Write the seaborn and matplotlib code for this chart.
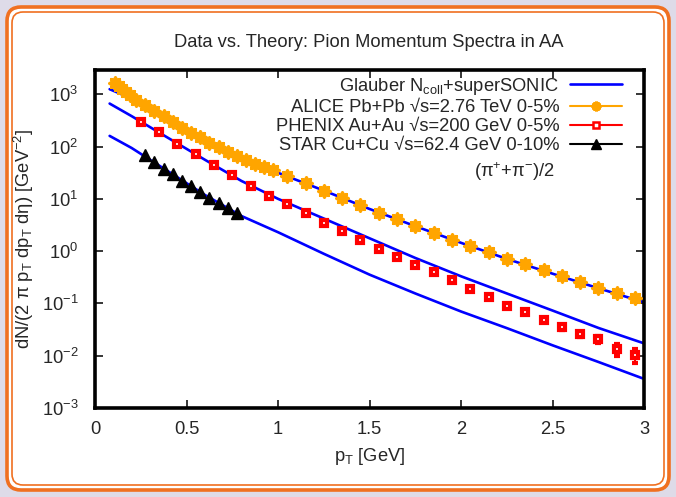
import pandas as pd
import matplotlib
matplotlib.use('Agg')
import matplotlib.pyplot as plt
import seaborn as sns
from matplotlib.patches import FancyBboxPatch, Rectangle
from matplotlib.lines import Line2D
from matplotlib.ticker import NullLocator, FixedLocator
from matplotlib.transforms import IdentityTransform

# Glauber Ncoll + superSONIC curves
theory_pt = [0.08, 0.2, 0.4, 0.6, 0.8, 1.0, 1.25, 1.5, 1.75, 2.0, 2.25, 2.5, 2.75, 3.0]
theory_pbpb = [1250, 830, 335, 133, 60, 31.5, 14.4, 6.4, 3.0, 1.44, 0.71, 0.37, 0.195, 0.105]
theory_auau = [664, 382, 146, 56, 22, 10, 4.2, 1.76, 0.74, 0.33, 0.155, 0.073, 0.034, 0.0172]
theory_cucu = [160, 94, 33.5, 11.9, 4.7, 2.3, 0.89, 0.355, 0.155, 0.070, 0.0337, 0.0158, 0.0076, 0.0036]

# ALICE Pb+Pb 2.76 TeV 0-5%
alice_pt = [0.11, 0.13, 0.15, 0.17, 0.19, 0.225, 0.275, 0.325, 0.375, 0.425, 0.475,
            0.525, 0.575, 0.625, 0.675, 0.725, 0.775, 0.825, 0.875, 0.925, 0.975,
            1.05, 1.15, 1.25, 1.35, 1.45, 1.55, 1.65, 1.75, 1.85, 1.95,
            2.05, 2.15, 2.25, 2.35, 2.45, 2.55, 2.65, 2.75, 2.85, 2.95]
alice_y = [1620, 1420, 1250, 1090, 955, 792, 617, 480, 380, 296, 231,
           185, 149, 119, 96, 79, 65, 55, 46, 40, 35,
           27, 19.7, 14.4, 10.4, 7.56, 5.44, 4.03, 3.01, 2.24, 1.67,
           1.245, 0.944, 0.713, 0.557, 0.428, 0.328, 0.255, 0.196, 0.155, 0.125]
alice_relerr = 0.06

# PHENIX Au+Au 200 GeV 0-5%
phenix_pt = [0.25, 0.35, 0.45, 0.55, 0.65, 0.75, 0.85, 0.95, 1.05, 1.15, 1.25, 1.35, 1.45, 1.55,
             1.65, 1.75, 1.85, 1.95, 2.05, 2.15, 2.25, 2.35, 2.45, 2.55, 2.65, 2.75, 2.85, 2.95]
phenix_y = [300, 187, 114, 72, 44, 28, 17.5, 11.5, 7.8, 5.3, 3.47, 2.44, 1.67, 1.12,
            0.778, 0.54, 0.397, 0.275, 0.192, 0.130, 0.0889, 0.0692, 0.0487, 0.0348, 0.0256, 0.0205, 0.0132, 0.0102]
phenix_relerr = [0.08, 0.08, 0.08, 0.08, 0.08, 0.08, 0.08, 0.08, 0.08, 0.08, 0.08, 0.08, 0.08, 0.08,
                 0.08, 0.08, 0.08, 0.08, 0.08, 0.08, 0.08, 0.09, 0.1, 0.1, 0.12, 0.15, 0.25, 0.3]

# STAR Cu+Cu 62.4 GeV 0-10%
star_pt = [0.275, 0.325, 0.375, 0.425, 0.475, 0.525, 0.575, 0.625, 0.675, 0.725, 0.775]
star_y = [68.2, 50.8, 38.0, 29.6, 22.0, 17.7, 13.6, 10.4, 8.15, 6.54, 5.25]

sns.set_style('ticks')
plt.rcParams['font.family'] = ['Liberation Sans', 'DejaVu Sans']
plt.rcParams['mathtext.fontset'] = 'custom'
plt.rcParams['mathtext.rm'] = 'Liberation Sans'
plt.rcParams['mathtext.it'] = 'Liberation Sans:italic'
plt.rcParams['mathtext.bf'] = 'Liberation Sans:bold'

FS = 13.2

fig, ax = plt.subplots(figsize=(6.76, 4.97), dpi=100)
fig.subplots_adjust(left=0.1405, right=0.953, top=0.859, bottom=0.179)

# slide-like background with orange rounded frame
fig.patches.append(Rectangle((0, 0), 676, 497, transform=IdentityTransform(),
                             facecolor='#dedbe8', edgecolor='none', zorder=-10))
fig.patches.append(FancyBboxPatch((7, 7), 662, 483, boxstyle='round,pad=0,rounding_size=14',
                                  transform=IdentityTransform(), facecolor='white',
                                  edgecolor='#f07020', linewidth=2.6, zorder=-9))
fig.patches.append(FancyBboxPatch((12, 12), 652, 473, boxstyle='round,pad=0,rounding_size=11',
                                  transform=IdentityTransform(), facecolor='none',
                                  edgecolor='#f07020', linewidth=1.2, zorder=-8))
fig.patch.set_facecolor('white')
ax.set_facecolor('none')

n = len(theory_pt)
theory = pd.DataFrame({
    'pT': theory_pt * 3,
    'yield': theory_pbpb + theory_auau + theory_cucu,
    'system': ['PbPb'] * n + ['AuAu'] * n + ['CuCu'] * n,
})
sns.lineplot(data=theory, x='pT', y='yield', units='system', estimator=None,
             color='#0000ff', linewidth=1.9, ax=ax, legend=False, zorder=2)

ax.errorbar(alice_pt, alice_y, yerr=[v * alice_relerr for v in alice_y], fmt='none',
            ecolor='#ffa500', elinewidth=1.2, capsize=2, zorder=3)
ax.scatter(alice_pt, alice_y, marker=(8, 2, 0), s=60, color='#ffa500', linewidths=2.6, zorder=4)

ax.errorbar(phenix_pt, phenix_y, yerr=[v * e for v, e in zip(phenix_y, phenix_relerr)], fmt='s',
            ms=4, mfc='white', mec='#ff0000', mew=3.0, ecolor='#ff0000', elinewidth=1.5,
            capsize=2.5, zorder=4)

ax.errorbar(star_pt, star_y, yerr=[v * 0.03 for v in star_y], fmt='^', ms=8, color='black',
            elinewidth=1.0, capsize=1.5, zorder=4)

ax.set_yscale('log')
ax.set_xlim(0, 3)
ax.set_ylim(1e-3, 2900)
ax.xaxis.set_major_locator(FixedLocator([0, 0.5, 1, 1.5, 2, 2.5, 3]))
ax.set_xticklabels(['0', '0.5', '1', '1.5', '2', '2.5', '3'])
ax.yaxis.set_minor_locator(NullLocator())
ax.tick_params(direction='in', top=True, right=True, length=6, width=1.3, labelsize=FS)
ax.tick_params(axis='x', pad=9)
ax.tick_params(axis='y', pad=12)
for s in ax.spines.values():
    s.set_linewidth(2.6)
    s.set_color('black')

ax.set_xlabel(r'p$_\mathrm{T}$ [GeV]', fontsize=FS)
ax.set_ylabel(r'dN/(2 π p$_\mathrm{T}$ dp$_\mathrm{T}$ dη) [GeV$^{-2}$]', fontsize=FS)
ax.xaxis.set_label_coords(0.5, -0.112)
ax.yaxis.set_label_coords(-0.108, 0.5)

fig.text(0.546, 0.915, 'Data vs. Theory: Pion Momentum Spectra in AA', ha='center', va='center', fontsize=FS)
ax.text(0.69, 0.70, r'(π$^{+}$+π$^{-}$)/2', transform=ax.transAxes, ha='left', va='center', fontsize=FS)

handles = [
    Line2D([], [], color='#0000ff', lw=1.9),
    Line2D([], [], color='#ffa500', lw=1.5, marker=(8, 2, 0), ms=7, mew=2.2),
    Line2D([], [], color='#ff0000', lw=1.5, marker='s', ms=4, mfc='white', mew=1.8),
    Line2D([], [], color='black', lw=1.5, marker='^', ms=7),
]
labels = [
    r'Glauber N$_\mathrm{coll}$+superSONIC',
    'ALICE Pb+Pb √s=2.76 TeV 0-5%',
    'PHENIX Au+Au √s=200 GeV 0-5%',
    'STAR Cu+Cu √s=62.4 GeV 0-10%',
]
ax.legend(handles, labels, loc='upper right', bbox_to_anchor=(0.972, 1.005), frameon=False,
          markerfirst=False, fontsize=FS, handlelength=2.8, handletextpad=0.6,
          labelspacing=0.12, borderaxespad=0.0)

fig.savefig('out.png', dpi=100, facecolor=fig.get_facecolor())
